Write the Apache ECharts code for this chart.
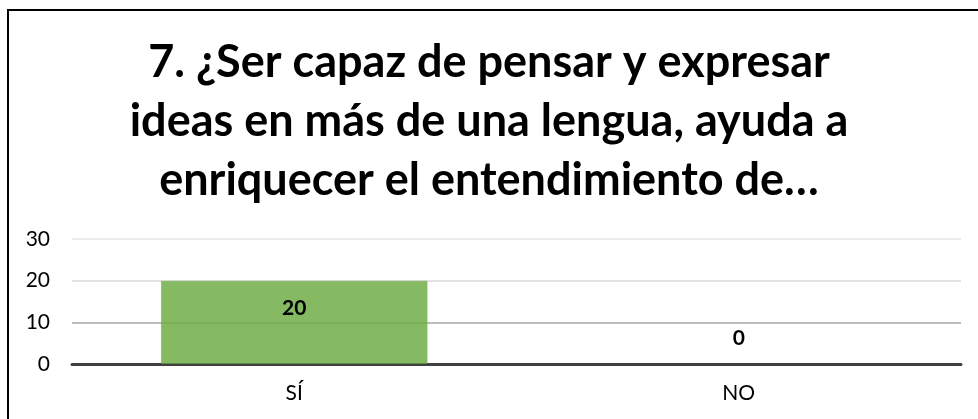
<!DOCTYPE html>
<html>
<head>
<meta charset="utf-8">
<script src="https://cdn.jsdelivr.net/npm/echarts@6/dist/echarts.min.js"></script>
<style>
  html, body { margin: 0; padding: 0; background: #fff; }
  #chart { width: 978px; height: 419px; }
</style>
</head>
<body>
<div id="chart"></div>
<script>
// datos del gráfico
const titleLines = ['7. ¿Ser capaz de pensar y expresar', 'ideas en más de una lengua, ayuda a', 'enriquecer el entendimiento de…']
const categories = ['SÍ', 'NO']
const values = [20, 0]
const yTicks = [0, 10, 20, 30]

// la etiqueta va dentro de la barra cuando hay valor, encima si es cero
const barData = values.map(v => v > 0
    ? {
        value: v,
        label: { position: 'insideTop', distance: 17 },
        itemStyle: { borderColor: 'rgba(112,173,71,0.45)', borderWidth: 1 }
    }
    : v)

const chart = echarts.init(document.getElementById('chart'))
chart.setOption({
    animation: false,
    textStyle: { fontFamily: 'Lato, "Open Sans", sans-serif' },
    title: {
        text: titleLines.join('\n'),
        left: 'center',
        top: 28,
        textStyle: {
            fontFamily: 'Lato, "Open Sans", sans-serif',
            fontWeight: 'bold',
            fontSize: 45,
            lineHeight: 59,
            color: '#000'
        }
    },
    graphic: [
        // marco del gráfico (solo izquierda y arriba visibles)
        { type: 'line', shape: { x1: 8, y1: 9, x2: 8, y2: 419 }, style: { stroke: '#000', lineWidth: 2 } },
        { type: 'line', shape: { x1: 7, y1: 10, x2: 978, y2: 10 }, style: { stroke: '#000', lineWidth: 2 } }
    ],
    grid: { left: 72, right: 17, top: 239, bottom: 55 },
    xAxis: {
        type: 'category',
        data: categories,
        axisTick: { show: false },
        axisLine: { lineStyle: { color: '#404040', width: 3 } },
        axisLabel: { color: '#000', fontSize: 21, margin: 19, fontFamily: 'Lato' }
    },
    yAxis: {
        type: 'value',
        min: yTicks[0],
        max: yTicks[yTicks.length - 1],
        interval: 10,
        axisLine: { show: false },
        axisTick: { show: false },
        axisLabel: { color: '#000', fontSize: 21, margin: 22, fontFamily: 'Lato' },
        splitLine: { lineStyle: { color: ['#d9d9d9', '#a6a6a6', '#d9d9d9', '#e4e4e4'], width: 1.5 } }
    },
    series: [{
        type: 'bar',
        data: barData,
        barWidth: '60%',
        itemStyle: { color: 'rgba(112,173,71,0.85)' },
        label: {
            show: true,
            position: 'top',
            distance: 15,
            color: '#000',
            fontWeight: 'bold',
            fontSize: 21,
            fontFamily: 'Lato'
        }
    }]
})
</script>
</body>
</html>
